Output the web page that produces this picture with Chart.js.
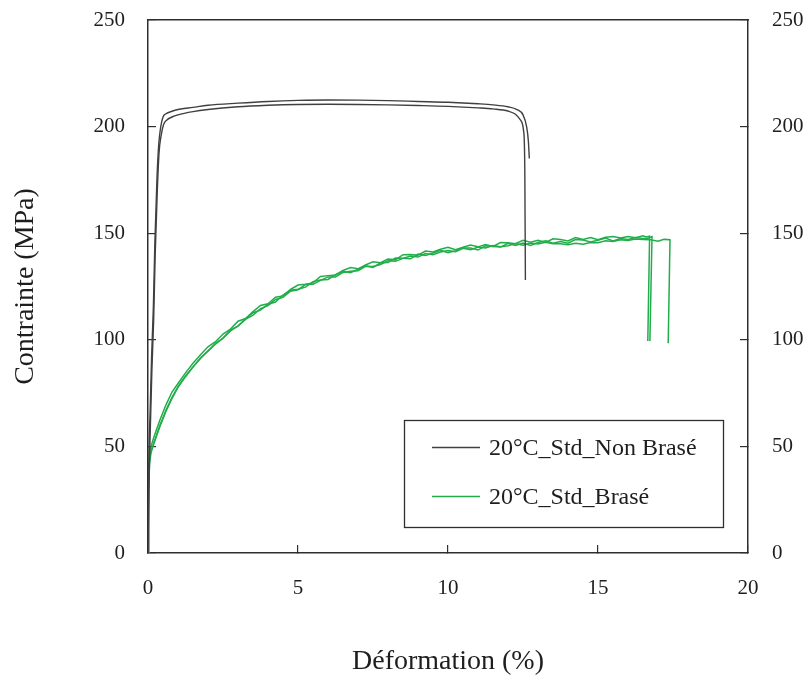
<!DOCTYPE html>
<html><head><meta charset="utf-8">
<script src="https://cdn.jsdelivr.net/npm/chart.js@4/dist/chart.umd.min.js"></script>
<style>html,body{margin:0;padding:0;background:#fff}#wrap{width:805px;height:677px;position:relative}</style>
</head><body><div id="wrap"><canvas id="c"></canvas></div>
<script>
// ---- data ----
const seriesLabels = ['20°C_Std_Non Brasé', '20°C_Std_Brasé'];
const seriesColors = ['#404040', '#22ad4b'];
const xTickValues = [0, 5, 10, 15, 20];
const yTickValues = [0, 50, 100, 150, 200, 250];

// Non brasé (2 specimens)
const strainN1 = [0,0.02,0.07,0.12,0.18,0.23,0.3,0.36,0.42,0.5,0.6,0.8,1,1.5,2,3,4,5,6,7,8,9,10,11,11.5,12,12.3,12.5,12.62,12.68,12.71];
const stressN1 = [0,35,66,92,116,146,176,192,199.5,204.5,206,207.2,208,209,210,211,211.8,212.3,212.5,212.4,212.2,211.8,211.4,210.7,210.2,209.3,208,205.5,200,193,185];
const strainN2 = [0,0.03,0.08,0.13,0.19,0.24,0.31,0.37,0.44,0.52,0.62,0.8,1,1.5,2,3,4,5,6,7,8,9,10,11,11.5,12,12.25,12.42,12.52,12.56,12.58];
const stressN2 = [0,30,60,86,110,140,170,188,196,201,203,204.5,205.5,207,208,209.3,210,210.4,210.5,210.4,210.2,209.9,209.5,208.8,208.3,207.3,205.8,203,198,180,128];

// Brasé (3 specimens) on a common strain grid, then individual rupture tails
const strainG = [0,0.02,0.05,0.1,0.2,0.4,0.6,0.8,
  1,1.25,1.5,1.75,2,2.25,2.5,2.75,3,3.25,3.5,3.75,4,4.25,4.5,4.75,5,5.25,5.5,5.75,6,6.25,6.5,6.75,
  7,7.25,7.5,7.75,8,8.25,8.5,8.75,9,9.25,9.5,9.75,10,10.25,10.5,10.75,11,11.25,11.5,11.75,12,12.25,12.5,12.75,
  13,13.25,13.5,13.75,14,14.25,14.5,14.75,15,15.25,15.5,15.75,16,16.25,16.5];
const stressGA = [0,32,46.5,50,54.5,62.5,69.5,75.5,
  79.5,84.5,89.0,93.0,96.7,99.1,102.7,105.0,108.7,110.0,113.2,116.1,116.9,120.0,120.6,123.6,125.7,126.1,126.7,129.7,130.1,130.4,132.5,133.9,
  133.3,135.1,136.6,136.2,137.9,137.5,139.9,140.0,139.7,141.6,141.2,142.5,143.4,142.2,143.4,144.5,143.6,144.7,143.8,145.6,145.5,145.1,146.7,145.8,
  146.7,145.7,147.4,147.0,146.4,148.0,147.1,148.0,146.9,148.1,148.5,147.7,148.4,147.9,148.8];
const stressGB = [0,30,44,48,52,60,67,73,
  78,83,87.3,91.6,94.7,98.4,100.8,104.5,106.4,109.8,112.7,113.9,116.7,117.7,121.0,123.2,123.7,124.7,127.3,128.0,128.3,130.6,132.0,131.5,
  133.1,134.7,133.9,136.1,136.3,138.4,138.3,138.0,140.2,139.5,140.7,142.0,140.9,141.7,143.1,143.1,142.1,144.1,143.8,143.5,145.3,144.3,145.4,144.3,
  145.6,146.4,145.3,146.1,145.3,147.0,146.8,145.9,146.7,147.7,146.4,147.5,147.0,148.0,147.5];
const stressGC = [0,28,42,47,51.5,59.5,66.5,72.5,
  77.7,82.7,87.2,91.2,94.9,97.9,100.7,104.2,106.5,109.6,111.6,114.6,116.0,118.9,119.9,122.8,123.5,125.9,126.0,127.9,129.5,129.5,131.6,132.1,
  132.4,134.5,134.4,135.3,137.1,136.8,138.2,139.3,138.8,140.5,139.9,141.2,141.9,141.3,142.9,142.2,143.5,143.1,144.2,143.6,144.1,145.2,144.4,145.4,
  144.9,145.8,145.0,145.1,144.6,145.3,144.8,145.6,145.5,146.4,146.1,146.9,146.6,147.3,147.1];
const tailStrainGA = [16.6,16.72,16.66];
const tailStressGA = [148.2,148.6,99.4];
const tailStrainGB = [16.65,16.8,16.73];
const tailStressGB = [147.5,148.4,99.4];
const tailStrainGC = [16.75,17.0,17.2,17.4,17.34];
const tailStressGC = [146.9,146.2,147.1,146.9,98.4];

// ---- build ----
const zip = (xs, ys) => xs.map((x, i) => ({x: x, y: ys[i]}));
const F = "'Liberation Serif', 'Times New Roman', serif";
const frame = '#2e2e2e';
const txt = '#1e1e1e';

function blackSet(xs, ys) {
  return {label: seriesLabels[0], data: zip(xs, ys), showLine: true, pointRadius: 0,
    borderColor: seriesColors[0], borderWidth: 1.4, cubicInterpolationMode: 'monotone', fill: false};
}
function greenSet(xs, ys) {
  return {label: seriesLabels[1], data: zip(xs, ys), showLine: true, pointRadius: 0,
    borderColor: seriesColors[1], borderWidth: 1.5, tension: 0, fill: false};
}

const datasets = [
  blackSet(strainN1, stressN1),
  blackSet(strainN2, stressN2),
  greenSet(strainG.concat(tailStrainGA), stressGA.concat(tailStressGA)),
  greenSet(strainG.concat(tailStrainGB), stressGB.concat(tailStressGB)),
  greenSet(strainG.concat(tailStrainGC), stressGC.concat(tailStressGC))
];

const boxLegend = {
  id: 'boxLegend',
  afterDraw(chart) {
    const {ctx, chartArea: a} = chart;
    const x0 = a.left + 256, y0 = a.top + 400, w = 319, h = 107;
    ctx.save();
    ctx.fillStyle = '#fff';
    ctx.fillRect(x0, y0, w, h);
    ctx.strokeStyle = frame; ctx.lineWidth = 1.3;
    ctx.strokeRect(x0 + 0.5, y0 + 0.5, w, h);
    ctx.font = "24px " + F;
    ctx.textBaseline = 'middle';
    ctx.textAlign = 'left';
    seriesLabels.forEach((lab, i) => {
      const y = y0 + 27 + i * 49;
      ctx.strokeStyle = seriesColors[i]; ctx.lineWidth = 1.4;
      ctx.beginPath(); ctx.moveTo(x0 + 28, y + 0.5); ctx.lineTo(x0 + 76, y + 0.5); ctx.stroke();
      ctx.fillStyle = txt;
      ctx.fillText(lab, x0 + 85, y + 2);
    });
    ctx.restore();
  }
};

const tickFont = {family: F, size: 21};
const innerGrid = {display: true, drawOnChartArea: false, drawTicks: true, tickLength: -8, color: frame, tickColor: frame, lineWidth: 1.2};
const border = {display: true, color: frame, width: 1.5};
const noPadV = s => { s.paddingTop = 0; s.paddingBottom = 0; };
const noPadH = s => { s.paddingLeft = 0; s.paddingRight = 0; };

new Chart(document.getElementById('c'), {
  type: 'scatter',
  data: {datasets: datasets},
  options: {
    responsive: true, maintainAspectRatio: false, animation: false,
    layout: {padding: {top: 20, left: 0, right: 0, bottom: 0}},
    plugins: {legend: {display: false}, tooltip: {enabled: false}},
    scales: {
      x: {type: 'linear', position: 'bottom', min: 0, max: 20,
        afterBuildTicks(s) { s.ticks = xTickValues.map(v => ({value: v})); },
        ticks: {padding: 31, color: txt, font: tickFont, maxRotation: 0},
        grid: innerGrid, border: border,
        title: {display: true, text: 'Déformation (%)', color: txt, font: {family: F, size: 28, lineHeight: 1}, padding: {top: 0, bottom: 1}},
        afterFit(s) { s.height = 124; noPadH(s); }},
      xTop: {type: 'linear', position: 'top', min: 0, max: 20,
        ticks: {display: false}, grid: {display: false}, border: border,
        afterFit(s) { s.height = 0; noPadH(s); }},
      y: {type: 'linear', position: 'left', min: 0, max: 250,
        afterBuildTicks(s) { s.ticks = yTickValues.map(v => ({value: v})); },
        ticks: {padding: 31, color: txt, font: tickFont},
        grid: innerGrid, border: border,
        title: {display: true, text: 'Contrainte (MPa)', color: txt, font: {family: F, size: 28, lineHeight: 1}, padding: {top: 12, bottom: 0}},
        afterFit(s) { s.width = 148; noPadV(s); }},
      y2: {type: 'linear', position: 'right', min: 0, max: 250,
        afterBuildTicks(s) { s.ticks = yTickValues.map(v => ({value: v})); },
        ticks: {padding: 32, color: txt, font: tickFont},
        grid: innerGrid, border: border,
        afterFit(s) { s.width = 57; noPadV(s); }}
    }
  },
  plugins: [boxLegend]
});
</script></body></html>
